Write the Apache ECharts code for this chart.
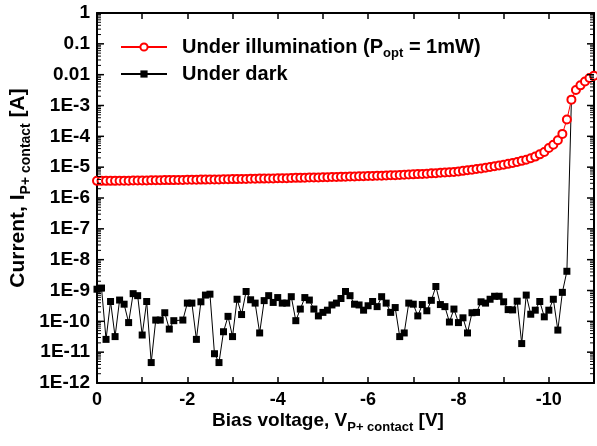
<!DOCTYPE html>
<html>
<head>
<meta charset="utf-8">
<script src="https://cdn.jsdelivr.net/npm/echarts@6/dist/echarts.min.js"></script>
<style>
  html, body { margin: 0; padding: 0; background: #fff; }
  #chart { width: 597px; height: 446px; }
</style>
</head>
<body>
<div id="chart"></div>
<script>
var FONT = '"Liberation Sans", Arial, sans-serif';

// bias sweep: 0 V down to -11 V, 0.1 V per point
var V_STEP = -0.1;
var X_LEFT = 0, X_RIGHT = -11;

// log decades shown on the current axis
var yDecades = [1e-12, 1e-11, 1e-10, 1e-9, 1e-8, 1e-7, 1e-6, 1e-5, 1e-4, 1e-3, 1e-2, 1e-1, 1];

// current under illumination (A)
var illum = [
  3.6e-6, 3.6e-6, 3.6e-6, 3.6e-6, 3.6e-6, 3.65e-6, 3.65e-6, 3.65e-6, 3.7e-6, 3.7e-6,
  3.7e-6, 3.7e-6, 3.75e-6, 3.75e-6, 3.75e-6, 3.8e-6, 3.8e-6, 3.8e-6, 3.85e-6, 3.85e-6,
  3.9e-6, 3.9e-6, 3.9e-6, 3.95e-6, 3.95e-6, 4.0e-6, 4.0e-6, 4.0e-6, 4.05e-6, 4.05e-6,
  4.1e-6, 4.1e-6, 4.15e-6, 4.15e-6, 4.2e-6, 4.2e-6, 4.25e-6, 4.25e-6, 4.3e-6, 4.3e-6,
  4.35e-6, 4.4e-6, 4.4e-6, 4.45e-6, 4.5e-6, 4.5e-6, 4.55e-6, 4.6e-6, 4.6e-6, 4.65e-6,
  4.7e-6, 4.75e-6, 4.8e-6, 4.8e-6, 4.85e-6, 4.9e-6, 4.95e-6, 5.0e-6, 5.05e-6, 5.1e-6,
  5.15e-6, 5.2e-6, 5.25e-6, 5.3e-6, 5.4e-6, 5.45e-6, 5.5e-6, 5.6e-6, 5.65e-6, 5.75e-6,
  5.85e-6, 5.95e-6, 6.05e-6, 6.15e-6, 6.3e-6, 6.4e-6, 6.55e-6, 6.7e-6, 6.85e-6, 7.0e-6,
  7.3e-6, 7.6e-6, 7.9e-6, 8.3e-6, 8.7e-6, 9.1e-6, 9.6e-6, 1.01e-5, 1.07e-5, 1.13e-5,
  1.2e-5, 1.28e-5, 1.37e-5, 1.48e-5, 1.6e-5, 1.75e-5, 1.95e-5, 2.2e-5, 2.6e-5, 3.1e-5,
  4.2e-5, 5.3e-5, 7.5e-5, 1.2e-4, 3.5e-4, 1.55e-3, 3.2e-3, 4.5e-3, 6.0e-3, 7.8e-3, 9.3e-3
];

// current in the dark (A); one missing reading at -1.8 V
var dark = [
  1.1e-9, 1.2e-9, 2.6e-11, 4.4e-10, 3.2e-11, 4.9e-10, 3.6e-10, 9.1e-11, 7.9e-10, 6.8e-10,
  3.6e-11, 4.4e-10, 4.6e-12, 1.1e-10, 1.1e-10, 1.9e-10, 5.6e-11, 1.05e-10, null, 1.1e-10,
  3.9e-10, 3.9e-10, 2.6e-11, 4.3e-10, 7.1e-10, 7.6e-10, 8.9e-12, 4.6e-12, 4.6e-11, 1.45e-10,
  3.2e-11, 5.2e-10, 1.66e-10, 9.3e-10, 5.0e-10, 3.9e-10, 4.2e-11, 4.7e-10, 6.8e-10, 4.1e-10,
  5.9e-10, 3.9e-10, 3.9e-10, 6.3e-10, 1.05e-10, 2.5e-10, 5.9e-10, 4.9e-10, 2.5e-10, 1.5e-10,
  1.95e-10, 2.3e-10, 3.4e-10, 3.9e-10, 5.5e-10, 9.3e-10, 6.8e-10, 3.6e-10, 3.4e-10, 2.3e-10,
  3.2e-10, 4.4e-10, 3.0e-10, 6.3e-10, 3.9e-10, 1.95e-10, 2.8e-10, 3.2e-11, 4.2e-11, 3.9e-10,
  3.6e-10, 1.5e-10, 3.5e-10, 2.2e-10, 4.8e-10, 1.35e-9, 3.5e-10, 3.0e-10, 9.5e-11, 2.5e-10,
  9.1e-11, 1.3e-10, 4.2e-11, 1.9e-10, 1.95e-10, 4.3e-10, 3.9e-10, 5.2e-10, 6.5e-10, 6.5e-10,
  4.3e-10, 2.4e-10, 2.35e-10, 4.5e-10, 1.9e-11, 7.1e-10, 1.7e-10, 2.3e-10, 4.4e-10, 1.4e-10,
  2.3e-10, 5.2e-10, 5.2e-11, 8.7e-10, 4.2e-9, 1.55e-3
];

var toPairs = (ys) => ys.map((y, i) => [+(i * V_STEP).toFixed(1), y]);

// minor log ticks: 2..9 inside each decade
var yMinor = [];
yDecades.slice(0, -1).forEach((d) => {
  for (var m = 2; m <= 9; m++) yMinor.push(d * m);
});
var yMajorExp = yDecades.map((d) => Math.round(Math.log10(d)));

var yLabel = (e) => {
  e = Math.round(e);
  if (e === 0) return "1";
  if (e === -1) return "0.1";
  if (e === -2) return "0.01";
  return "1E" + e;
};

var axisLine = { show: true, onZero: false, lineStyle: { color: "#000", width: 2 } };

var xBase = {
  type: "value",
  inverse: true,
  min: -11,
  max: 0,
  interval: 1,
  splitLine: { show: false },
  axisLine: axisLine,
  axisTick: { show: true, inside: true, length: 6, lineStyle: { color: "#000", width: 1.5 } },
};

// tick marks along a vertical edge, drawn as thin rect symbols on the log scale
var tickSeries = (x, dir, vals, len, w) => ({
  type: "scatter",
  silent: true,
  clip: false,
  z: 5,
  data: vals.map((v) => [x, v]),
  symbol: "rect",
  symbolSize: [len, w],
  symbolOffset: [(dir * len) / 2, 0],
  itemStyle: { color: "#000", opacity: 1 },
  emphasis: { disabled: true },
});

var subRich = {
  m: { fontSize: 20, fontWeight: "bold", fontFamily: FONT, lineHeight: 20, verticalAlign: "top", color: "#000" },
  s: { fontSize: 13, fontWeight: "bold", fontFamily: FONT, lineHeight: 13, verticalAlign: "top", padding: [10, 0, 0, 0], color: "#000" },
};
var titleRich = {
  m: { fontSize: 19, fontWeight: "bold", fontFamily: FONT, lineHeight: 20, verticalAlign: "top", color: "#000" },
  s: { fontSize: 13, fontWeight: "bold", fontFamily: FONT, lineHeight: 13, verticalAlign: "top", padding: [10, 0, 0, 0], color: "#000" },
};
var yTitleRich = {
  m: { fontSize: 21, fontWeight: "bold", fontFamily: FONT, lineHeight: 22, verticalAlign: "top", color: "#000" },
  s: { fontSize: 14, fontWeight: "bold", fontFamily: FONT, lineHeight: 14, verticalAlign: "top", padding: [11, 0, 0, 0], color: "#000" },
};

var chart = echarts.init(document.getElementById("chart"));

chart.setOption({
  animation: false,
  backgroundColor: "#fff",
  grid: { left: 97, right: 1, top: 13, bottom: 63, containLabel: false },
  legend: {
    orient: "vertical",
    left: 115,
    top: 32,
    itemWidth: 46,
    itemHeight: 9,
    itemGap: 4,
    data: ["illum", "dark"],
    formatter: (name) =>
      name === "illum"
        ? "{m|Under illumination (P}{s|opt}{m| = 1mW)}"
        : "{m|Under dark}",
    textStyle: { rich: subRich, padding: [0, 0, 0, 10] },
  },
  xAxis: [
    Object.assign({}, xBase, {
      position: "bottom",
      axisLabel: {
        margin: 8,
        color: "#000",
        fontFamily: FONT,
        fontWeight: "bold",
        fontSize: 18,
        formatter: (v) => (Math.round(v) % 2 === 0 ? String(Math.round(v)) : ""),
      },
    }),
    Object.assign({}, xBase, { position: "top", axisLabel: { show: false } }),
  ],
  yAxis: [
    {
      type: "log",
      logBase: 10,
      min: 1e-12,
      max: 1,
      position: "left",
      splitLine: { show: false },
      axisLine: axisLine,
      axisTick: { show: false },
      axisLabel: { show: false },
    },
    // labels on an exponent scale, one per decade
    {
      type: "value",
      position: "left",
      min: -12,
      max: 0,
      interval: 1,
      splitLine: { show: false },
      axisLine: { show: false, onZero: false },
      axisTick: { show: false },
      axisLabel: {
        show: true,
        customValues: yMajorExp,
        margin: 7,
        color: "#000",
        fontFamily: FONT,
        fontWeight: "bold",
        fontSize: 19,
        formatter: yLabel,
      },
    },
    {
      type: "log",
      logBase: 10,
      min: 1e-12,
      max: 1,
      position: "right",
      splitLine: { show: false },
      axisLine: axisLine,
      axisTick: { show: false },
      axisLabel: { show: false },
    },
  ],
  series: [
    {
      name: "illum",
      type: "line",
      z: 3,
      data: toPairs(illum),
      symbol: "emptyCircle",
      symbolSize: 8,
      showAllSymbol: true,
      color: "#ff0000",
      itemStyle: { color: "#ff0000", borderColor: "#ff0000", borderWidth: 1 },
      lineStyle: { color: "#ff0000", width: 1 },
    },
    {
      name: "dark",
      type: "line",
      z: 2,
      data: toPairs(dark),
      connectNulls: true,
      symbol: "rect",
      symbolSize: 7,
      showAllSymbol: true,
      color: "#000",
      itemStyle: { color: "#000" },
      lineStyle: { color: "#000", width: 1 },
    },
    tickSeries(X_LEFT, 1, yDecades, 7, 1.5),
    tickSeries(X_LEFT, 1, yMinor, 4, 1),
    tickSeries(X_RIGHT, -1, yDecades, 7, 1.5),
    tickSeries(X_RIGHT, -1, yMinor, 4, 1),
  ],
  graphic: [
    {
      type: "text",
      x: 328,
      y: 411,
      style: {
        text: "{m|Bias voltage, V}{s|P+ contact}{m| [V]}",
        rich: titleRich,
        align: "center",
        verticalAlign: "top",
      },
    },
    {
      type: "text",
      x: 8,
      y: 188,
      rotation: Math.PI / 2,
      style: {
        text: "{m|Current, I}{s|P+ contact}{m| [A]}",
        rich: yTitleRich,
        align: "center",
        verticalAlign: "top",
      },
    },
  ],
});
</script>
</body>
</html>
